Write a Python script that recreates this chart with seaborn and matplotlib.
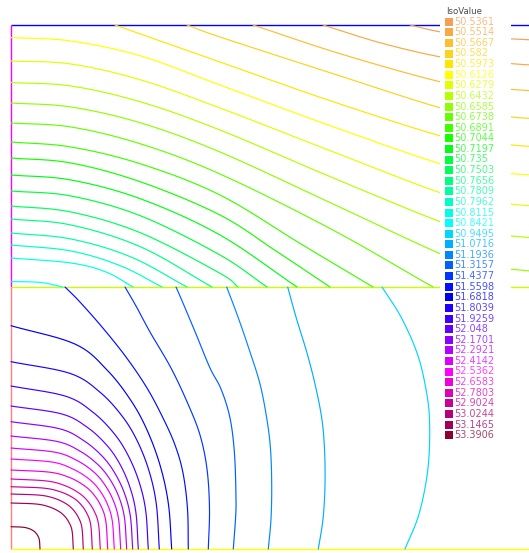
import numpy as np
import pandas as pd
import matplotlib
matplotlib.use("Agg")
import matplotlib.pyplot as plt
from matplotlib.patches import Rectangle
import seaborn as sns

# Isovalues listed in the legend and their colours
iso_labels = ["50.5361", "50.5514", "50.5667", "50.582", "50.5973", "50.6126",
              "50.6279", "50.6432", "50.6585", "50.6738", "50.6891", "50.7044",
              "50.7197", "50.735", "50.7503", "50.7656", "50.7809", "50.7962",
              "50.8115", "50.8421", "50.9495", "51.0716", "51.1936", "51.3157",
              "51.4377", "51.5598", "51.6818", "51.8039", "51.9259", "52.048",
              "52.1701", "52.2921", "52.4142", "52.5362", "52.6583", "52.7803",
              "52.9024", "53.0244", "53.1465", "53.3906"]
iso_colors = ["#f5a05a", "#f7aa44", "#fbbf2f", "#fdd21c", "#ffe600", "#ffff00",
              "#e0ff00", "#b4ff00", "#8cff00", "#64ff00", "#3cff00", "#14ff00",
              "#00ff14", "#00ff3c", "#00ff5a", "#00ff82", "#00ffa0", "#00ffc8",
              "#00ffe6", "#00ffff", "#00d7ff", "#00afff", "#0087ff", "#005fff",
              "#0037ff", "#000fff", "#0000f0", "#2000ff", "#4000ff", "#6400ff",
              "#8c00ff", "#b400ff", "#dc00ff", "#ff00ff", "#f000d8", "#e000b4",
              "#c80096", "#b4007a", "#a0005a", "#8c0032"]

# Two stacked layers: lower layer y in [0, 262], upper layer y in [262, 524]
LAYER_H = 262
DOMAIN_W = 524

# Upper-layer isolines: level -> x points / y points
upper_x = {
    "50.5361": [399, 430, 470, 509, 524],
    "50.5514": [312, 370, 430, 470, 509, 524],
    "50.5667": [242, 330, 430, 470, 509, 524],
    "50.582": [176, 209, 320, 430, 470, 509, 524],
    "50.5973": [104, 209, 320, 430, 470, 509, 524],
    "50.6126": [0, 60, 130, 209, 320, 430, 470, 509, 524],
    "50.6279": [0, 60, 130, 209, 320, 430, 470, 509, 524],
    "50.6432": [0, 60, 130, 209, 320, 430, 470, 509, 524],
    "50.6585": [0, 60, 130, 209, 320, 430, 470, 509, 524],
    "50.6738": [0, 60, 130, 209, 320, 422],
    "50.6891": [0, 60, 130, 209, 290, 362],
    "50.7044": [0, 60, 130, 209, 265, 319],
    "50.7197": [0, 60, 130, 209, 286],
    "50.735": [0, 60, 130, 209, 256],
    "50.7503": [0, 60, 130, 209, 227],
    "50.7656": [0, 60, 130, 201],
    "50.7809": [0, 60, 120, 176],
    "50.7962": [0, 60, 110, 151],
    "50.8115": [0, 60, 95, 122],
    "50.8421": [0, 30, 52],
}
upper_y = {
    "50.5361": [524, 517, 512, 509.7, 509],
    "50.5514": [524, 506, 492, 488, 484.7, 484],
    "50.5667": [524, 495, 467, 462, 459, 458],
    "50.582": [524, 512, 476, 441, 435, 431.3, 430.5],
    "50.5973": [524, 487, 448, 413, 407, 403.3, 402.5],
    "50.6126": [511.5, 508, 493, 464, 423, 385, 378, 374.7, 374],
    "50.6279": [488, 485, 469, 441, 398, 356, 348, 344, 343],
    "50.6432": [466.5, 463, 447, 419, 372, 327, 316, 312.3, 311],
    "50.6585": [446, 442, 426, 397, 346, 295, 283, 279, 277.5],
    "50.6738": [426, 422, 405, 375, 320, 262],
    "50.6891": [407, 402, 385, 354, 305, 262],
    "50.7044": [391, 386, 367, 334, 298, 262],
    "50.7197": [374, 369, 350, 314, 262],
    "50.735": [358, 353, 333, 294, 262],
    "50.7503": [343, 337, 316, 275.7, 262],
    "50.7656": [330, 324, 302, 262],
    "50.7809": [316, 310, 292, 262],
    "50.7962": [304, 298, 283, 262],
    "50.8115": [291, 286, 277, 262],
    "50.8421": [267.5, 266.5, 262],
}

# Lower-layer isolines
lower_x = {
    "50.9495": [394, 408, 417, 418.5, 414, 405.7, 390, 371],
    "51.0716": [307.3, 312, 314, 313.5, 310.7, 304, 295.7, 285, 276.7],
    "51.1936": [257.3, 260, 260.7, 259.5, 255.7, 249, 239, 227, 215.7],
    "51.3157": [222.3, 224.5, 225, 223.5, 219, 210, 199, 185, 170.7, 165],
    "51.4377": [197.3, 198.5, 196, 189, 177, 160, 139, 125, 114],
    "51.5598": [177.3, 176.5, 172, 164, 152, 136, 115, 91, 68, 54],
    "51.6818": [160.7, 157.5, 149.5, 136.6, 120.5, 96.4, 64.3, 0],
    "51.8039": [148.3, 145.3, 137.9, 126.1, 111.2, 89, 59.3, 0],
    "51.9259": [137.3, 134.6, 127.7, 116.7, 103, 82.4, 54.9, 0],
    "52.048": [127.3, 124.8, 118.4, 108.2, 95.5, 76.4, 50.9, 0],
    "52.1701": [121.7, 119.3, 113.2, 103.4, 91.3, 73, 48.7, 0],
    "52.2921": [115.7, 113.4, 107.6, 98.3, 86.8, 69.4, 46.3, 0],
    "52.4142": [109.7, 107.5, 102, 93.2, 82.3, 65.8, 43.9, 0],
    "52.5362": [103.3, 101.2, 96.1, 87.8, 77.5, 62, 41.3, 0],
    "52.6583": [96.7, 94.8, 89.9, 82.2, 72.5, 58, 38.7, 0],
    "52.7803": [89.3, 87.5, 83, 75.9, 67, 53.6, 35.7, 0],
    "52.9024": [81.3, 79.7, 75.6, 69.1, 61, 48.8, 32.5, 0],
    "53.0244": [72.3, 70.9, 67.2, 61.5, 54.2, 43.4, 28.9, 0],
    "53.1465": [62.3, 61.1, 57.9, 53, 46.7, 37.4, 24.9, 0],
    "53.3906": [29, 28.4, 27, 24.7, 21.8, 17.4, 11.6, 0],
}
lower_y = {
    "50.9495": [0, 35, 81, 130, 165, 197, 232, 262],
    "51.0716": [0, 30, 64, 100, 131, 165, 197, 232, 262],
    "51.1936": [0, 30, 64, 100, 131, 165, 197, 232, 262],
    "51.3157": [0, 30, 50, 95, 131, 160, 181, 215, 249, 262],
    "51.4377": [0, 40, 80, 114, 145, 181, 217, 243, 262],
    "51.5598": [0, 40, 76, 104, 131, 161, 192, 222, 248, 262],
    "51.6818": [0, 44.4, 82.2, 117.7, 147.6, 178.6, 204.8, 223.3],
    "51.8039": [0, 45, 78.5, 108.4, 132.8, 156.8, 175.5, 187.3],
    "51.9259": [0, 39.1, 68.3, 94.4, 115.6, 136.4, 152.7, 163],
    "52.048": [0, 37.2, 63.3, 86.1, 104.1, 121.6, 135, 143],
    "52.1701": [0, 33.1, 56.4, 76.6, 92.7, 108.2, 120.2, 127.3],
    "52.2921": [0, 31.6, 52.8, 70.6, 84.5, 97.6, 107.5, 113],
    "52.4142": [0, 30.3, 49.2, 65.1, 77.4, 88.6, 96.8, 101],
    "52.5362": [0, 28.6, 45.5, 59.8, 70.4, 79.9, 86.9, 90],
    "52.6583": [0, 28, 43.1, 55.1, 63.9, 71.7, 76.8, 79],
    "52.7803": [0, 24.9, 38.2, 48.9, 56.6, 63.5, 68, 70],
    "52.9024": [0, 24.2, 36.1, 45.4, 51.9, 57.4, 60.9, 62.3],
    "53.0244": [0, 21.4, 31.9, 40, 45.8, 50.7, 53.8, 55],
    "53.1465": [0, 17.9, 26.7, 33.5, 38.3, 42.4, 45, 46],
    "53.3906": [0, 8.7, 12.9, 16.2, 18.6, 20.6, 21.8, 22.3],
}

# Domain boundary segments and their colours
boundary_x = [(0, DOMAIN_W), (0, 0), (0, DOMAIN_W), (0, 0), (0, DOMAIN_W)]
boundary_y = [(2 * LAYER_H, 2 * LAYER_H), (LAYER_H, 2 * LAYER_H),
              (LAYER_H, LAYER_H), (0, LAYER_H), (0, 0)]
boundary_colors = ["#0000ff", "#ff00ff", "#c8ff00", "#ff7f7f", "#ffff00"]


def catmull_rom(xs, ys, n=10):
    """Smooth a polyline with a Catmull-Rom spline through its points."""
    p = np.column_stack([xs, ys]).astype(float)
    if len(p) < 3:
        return p
    ext = np.vstack([2 * p[0] - p[1], p, 2 * p[-1] - p[-2]])
    t = np.linspace(0, 1, n, endpoint=False)[:, None]
    segs = []
    for i in range(1, len(ext) - 2):
        p0, p1, p2, p3 = ext[i - 1:i + 3]
        segs.append(0.5 * (2 * p1 + (-p0 + p2) * t
                           + (2 * p0 - 5 * p1 + 4 * p2 - p3) * t ** 2
                           + (-p0 + 3 * p1 - 3 * p2 + p3) * t ** 3))
    segs.append(p[-1:])
    return np.vstack(segs)


rows = []
cid = 0
for xs_map, ys_map in ((upper_x, upper_y), (lower_x, lower_y)):
    for lvl in xs_map:
        pts = catmull_rom(xs_map[lvl], ys_map[lvl])
        for px, py in pts:
            rows.append({"x": px, "y": py, "level": lvl, "cid": cid})
        cid += 1
iso_df = pd.DataFrame(rows)
palette = dict(zip(iso_labels, iso_colors))

sns.set_style("white")
W, H = 529, 553
fig = plt.figure(figsize=(W / 100, H / 100), dpi=100)
ax = fig.add_axes([0, 0, 1, 1])
ax.set_xlim(-11, W - 11)
ax.set_ylim(549 - H, 549)
ax.axis("off")

for (x0, x1), (y0, y1), c in zip(boundary_x, boundary_y, boundary_colors):
    ax.plot([x0, x1], [y0, y1], color=c, lw=1.0, solid_capstyle="butt")

sns.lineplot(data=iso_df, x="x", y="y", hue="level", units="cid",
             estimator=None, sort=False, palette=palette, legend=False,
             lw=0.85, ax=ax)


# Legend panel, placed in figure pixels
def fx(px):
    return px / W


def fy(py):
    return 1 - py / H


fig.patches.append(Rectangle((fx(440), fy(445)), fx(511) - fx(440), fy(0) - fy(445),
                             transform=fig.transFigure, facecolor="white",
                             edgecolor="none", zorder=2))
fig.text(fx(446), fy(11), "IsoValue", color="#4a4a4a", fontsize=6.2,
         family="DejaVu Sans", va="center", ha="left", zorder=3)
for i, (lab, col) in enumerate(zip(iso_labels, iso_colors)):
    yc = 21.7 + i * 10.6
    fig.patches.append(Rectangle((fx(445), fy(yc + 4)), fx(8), fy(0) - fy(8),
                                 transform=fig.transFigure, facecolor=col,
                                 edgecolor="none", zorder=3))
    fig.text(fx(454.5), fy(yc), lab, color=col, fontsize=7, family="DejaVu Sans",
             va="center", ha="left", zorder=3, alpha=0.72)

fig.savefig("out.png", dpi=100)
